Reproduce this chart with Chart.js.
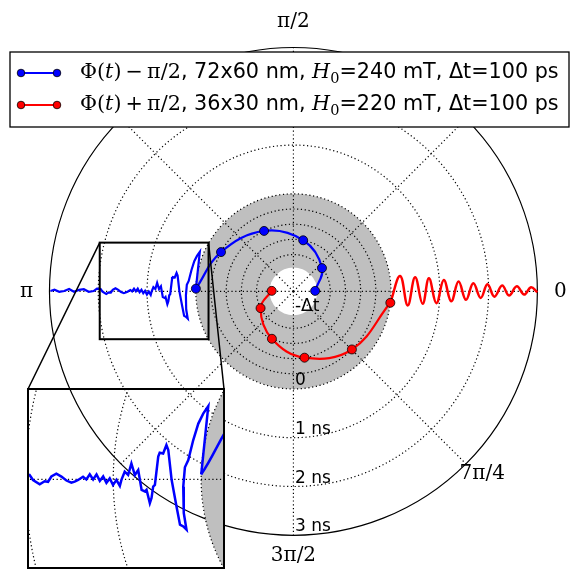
<!DOCTYPE html>
<html>
<head>
<meta charset="utf-8">
<script src="https://cdn.jsdelivr.net/npm/chart.js@4.4.1/dist/chart.umd.min.js"></script>
<style>
  body { margin: 0; background: #fff; }
  #wrap { position: relative; width: 579px; height: 572px; }
  #inset { position: absolute; left: 27px; top: 388px; }
</style>
</head>
<body>
<div id="wrap">
  <canvas id="polarChart" width="579" height="572"></canvas>
  <canvas id="inset" width="198" height="181"></canvas>
</div>
<script>
// times in ns, phases in degrees
// t < 0 lives in the magnified grey zone, the pole is -Δt
const spiralTimes = [-0.5, -0.4, -0.3, -0.2, -0.1, 0];
const blueSpiralPhase = [1.3, 39.2, 79.2, 115.9, 151.5, 178.4];
const redSpiralPhase = [178.6, 207.0, 245.6, 279.5, 315.2, 353.3];

const blueTraceTime = [0, 0.083, 0.106, 0.124, 0.135, 0.157, 0.189, 0.205, 0.229, 0.237,
  0.264, 0.296, 0.300, 0.336, 0.396, 0.425, 0.449, 0.489, 0.501, 0.527,
  0.547, 0.573, 0.597, 0.624, 0.644, 0.680, 0.718, 0.755, 0.799, 0.831,
  0.871, 0.907, 0.926, 0.964, 1.003, 1.040, 1.078, 1.115, 1.153, 1.191,
  1.229, 1.268, 1.306, 1.344, 1.400, 1.439, 1.477, 1.533, 1.590, 1.648,
  1.704, 1.742, 1.781, 1.837, 1.913, 1.952, 2.028, 2.095, 2.195, 2.296,
  2.396, 2.497, 2.598, 2.698, 2.799, 2.899, 2.98];
const blueTracePhase = [178.4, 157.1, 159.8, 163.1, 168.3, 174.3, 176.5, 182.1, 189.6, 194.4,
  193.3, 192.6, 187.5, 180.1, 172.2, 171.0, 173.3, 173.2, 174.2, 181.4,
  181.8, 184.6, 185.8, 182.5, 182.9, 182.5, 177.8, 179.0, 176.4, 179.0,
  178.3, 180.1, 181.4, 180.1, 181.2, 179.8, 180.7, 179.4, 180.3, 179.0,
  180.0, 179.0, 180.0, 179.5, 180.1, 180.4, 180.6, 180.2, 179.5, 179.0,
  179.5, 180.4, 180.3, 180.8, 180.1, 179.3, 179.2, 179.9, 180.1, 179.4,
  179.6, 180.1, 179.4, 179.9, 180.1, 179.6, 179.9];

const redTraceTime = [0, 0.21, 0.36, 0.51, 0.66, 0.79, 0.94, 1.09, 1.24, 1.39, 1.54,
  1.69, 1.84, 1.98, 2.12, 2.28, 2.42, 2.58, 2.73, 2.87, 3.0];
const redTracePhase = [-6.7, 8.2, -7.0, 6.6, -5.5, 5.5, -4.7, 4.3, -3.6, 3.4, -2.8,
  2.6, -2.0, 2.1, -1.5, 1.6, -1.1, 1.3, -0.8, 1.0, -0.2];

const radialTickTimes = [-0.643, 0, 1, 2, 3];
const radialTickLabels = ['-\u0394t', '0', '1 ns', '2 ns', '3 ns'];
const greyRingTimes = [-0.4, -0.3, -0.2, -0.1];
const angleTickDeg = [0, 90, 180, 270, 315];
const angleTickLabels = ['0', '\u03c0/2', '\u03c0', '3\u03c0/2', '7\u03c0/4'];

// zoomed window (plot units)
const insetX = [-3.97, -1.74];
const insetY = [-0.98, 1.0];

const T0 = radialTickTimes[0];
const HOLE = 0.49;
function radiusOf(t) { return t < 0 ? 2 * (t - T0) / -T0 : 2 + t; }
function toPoints(times, phases) {
  return times.map((t, i) => {
    const u = radiusOf(t), a = phases[i] * Math.PI / 180;
    return { x: u * Math.cos(a), y: u * Math.sin(a) };
  });
}

const BLUE = '#0000ff', RED = '#ff0000';
const SERIF = '"DejaVu Serif", serif', SANS = '"DejaVu Sans", sans-serif';

function makeDatasets(markers, lw) {
  const spiral = (phases, color) => ({
    data: toPoints(spiralTimes, phases), showLine: true, borderColor: color, borderWidth: lw,
    tension: 0.4, pointRadius: markers ? 4.5 : 0, pointBackgroundColor: color,
    pointBorderColor: '#000', pointBorderWidth: 0.8, order: 0
  });
  return [
    spiral(blueSpiralPhase, BLUE),
    spiral(redSpiralPhase, RED),
    { data: toPoints(blueTraceTime, blueTracePhase), showLine: true, borderColor: BLUE,
      borderWidth: lw, tension: 0, pointRadius: 0, order: 1 },
    { data: toPoints(redTraceTime, redTracePhase), showLine: true, borderColor: RED,
      borderWidth: lw + 0.3, tension: 0.4, pointRadius: 0, order: 1 }
  ];
}

const polarGrid = {
  id: 'polarGrid',
  beforeDatasetsDraw(chart) {
    const { ctx, chartArea: a, scales: { x, y } } = chart;
    const cx = x.getPixelForValue(0), cy = y.getPixelForValue(0);
    const kx = x.getPixelForValue(1) - cx, ky = cy - y.getPixelForValue(1);
    const ring = u => { ctx.beginPath(); ctx.ellipse(cx, cy, u * kx, u * ky, 0, 0, 2 * Math.PI); };
    ctx.save();
    ctx.beginPath(); ctx.rect(a.left, a.top, a.width, a.height); ctx.clip();
    ring(radiusOf(0)); ctx.fillStyle = '#bfbfbf'; ctx.fill();
    ring(HOLE); ctx.fillStyle = '#fff'; ctx.fill();
    ctx.setLineDash([1.2, 2.6]); ctx.lineWidth = 1.2; ctx.strokeStyle = '#000';
    greyRingTimes.concat(radialTickTimes.slice(1, -1)).forEach(t => { ring(radiusOf(t)); ctx.stroke(); });
    const outer = radiusOf(radialTickTimes[radialTickTimes.length - 1]);
    for (let k = 0; k < 8; k++) {
      const ang = k * Math.PI / 4;
      ctx.beginPath(); ctx.moveTo(cx, cy);
      ctx.lineTo(cx + outer * kx * Math.cos(ang), cy - outer * ky * Math.sin(ang));
      ctx.stroke();
    }
    ctx.setLineDash([]); ctx.strokeStyle = '#000'; ctx.lineWidth = 1.2;
    ring(outer); ctx.stroke();
    ctx.restore();
  }
};

// labels, zoom box, connectors and legend on the main chart
const decorations = {
  id: 'decorations',
  afterDatasetsDraw(chart) {
    const { ctx, scales: { x, y } } = chart;
    const cx = x.getPixelForValue(0), cy = y.getPixelForValue(0);
    const k = x.getPixelForValue(1) - cx;
    ctx.save();
    ctx.fillStyle = '#000';
    ctx.font = '17px ' + SANS;
    ctx.textAlign = 'left'; ctx.textBaseline = 'alphabetic';
    radialTickTimes.forEach((t, i) => {
      const r = radiusOf(t) * k;
      ctx.fillText(radialTickLabels[i], cx + 1.5, i === 0 ? cy + 20 : cy + r - 4);
    });
    ctx.font = '20px ' + SERIF;
    ctx.textAlign = 'center'; ctx.textBaseline = 'middle';
    angleTickDeg.forEach((d, i) => {
      const a = d * Math.PI / 180, r = 5 * k + 23;
      let px = cx + r * Math.cos(a), py = cy - r * Math.sin(a);
      if (d === 315) py -= 6;
      if (d === 270) py -= 3;
      if (d === 90) py -= 3;
      ctx.fillText(angleTickLabels[i], px, py);
    });
    // zoom box + connectors to the inset's top corners
    const x0 = x.getPixelForValue(insetX[0]), x1 = x.getPixelForValue(insetX[1]);
    const y0 = y.getPixelForValue(insetY[1]), y1 = y.getPixelForValue(insetY[0]);
    ctx.strokeStyle = '#000'; ctx.lineWidth = 2;
    ctx.strokeRect(x0, y0, x1 - x0, y1 - y0);
    ctx.lineWidth = 1.5;
    ctx.beginPath();
    ctx.moveTo(x0, y0); ctx.lineTo(28, 389);
    ctx.moveTo(x1, y0); ctx.lineTo(224, 389);
    ctx.stroke();
    ctx.restore();
  },
  afterDraw(chart) {
    const ctx = chart.ctx;
    ctx.save();
    ctx.fillStyle = '#fff'; ctx.strokeStyle = '#000'; ctx.lineWidth = 1.3;
    ctx.fillRect(10, 52, 559, 75); ctx.strokeRect(10, 52, 559, 75);
    const rows = [
      { color: BLUE, y: 73, parts: [
        { t: '\u03a6(', f: SERIF }, { t: 't', f: SERIF, s: 'italic ' }, { t: ')\u2009\u2212\u2009\u03c0/2', f: SERIF },
        { t: ', 72x60 nm, ', f: SANS }, { t: 'H', f: SERIF, s: 'italic ' }, { t: '0', f: SERIF, sc: 0.7, dy: 0.3 },
        { t: '=240 mT, \u0394t=100 ps', f: SANS }] },
      { color: RED, y: 105, parts: [
        { t: '\u03a6(', f: SERIF }, { t: 't', f: SERIF, s: 'italic ' }, { t: ')\u2009+\u2009\u03c0/2', f: SERIF },
        { t: ', 36x30 nm, ', f: SANS }, { t: 'H', f: SERIF, s: 'italic ' }, { t: '0', f: SERIF, sc: 0.7, dy: 0.3 },
        { t: '=220 mT, \u0394t=100 ps', f: SANS }] }
    ];
    const widthAt = (parts, size) => parts.reduce((w, p) => {
      ctx.font = (p.s || '') + (size * (p.sc || 1)) + 'px ' + p.f;
      return w + ctx.measureText(p.t).width;
    }, 0);
    const size = 19 * 479 / widthAt(rows[0].parts, 19);
    rows.forEach(row => {
      ctx.strokeStyle = row.color; ctx.lineWidth = 2;
      ctx.beginPath(); ctx.moveTo(21, row.y); ctx.lineTo(57, row.y); ctx.stroke();
      [21, 57].forEach(mx => {
        ctx.beginPath(); ctx.arc(mx, row.y, 3.8, 0, 2 * Math.PI);
        ctx.fillStyle = row.color; ctx.fill();
        ctx.strokeStyle = '#000'; ctx.lineWidth = 0.8; ctx.stroke();
      });
      ctx.fillStyle = '#000'; ctx.textBaseline = 'middle'; ctx.textAlign = 'left';
      let tx = 80;
      row.parts.forEach(p => {
        ctx.font = (p.s || '') + (size * (p.sc || 1)) + 'px ' + p.f;
        ctx.fillText(p.t, tx, row.y + (p.dy || 0) * size);
        tx += ctx.measureText(p.t).width;
      });
    });
    ctx.restore();
  }
};

const insetFrame = {
  id: 'insetFrame',
  afterDraw(chart) {
    const ctx = chart.ctx;
    ctx.save();
    ctx.strokeStyle = '#000'; ctx.lineWidth = 2;
    ctx.strokeRect(1, 1, chart.width - 2, chart.height - 2);
    ctx.restore();
  }
};

const baseOptions = (xr, yr) => ({
  responsive: false, animation: false, devicePixelRatio: 1, events: [],
  layout: { padding: 0 },
  plugins: { legend: { display: false }, tooltip: { enabled: false } },
  scales: {
    x: { type: 'linear', display: false, min: xr[0], max: xr[1] },
    y: { type: 'linear', display: false, min: yr[0], max: yr[1] }
  }
});

// main polar view: centre at (293.5, 291.5), 49.7 px per unit
const K = 49.7;
new Chart(document.getElementById('polarChart'), {
  type: 'scatter',
  data: { datasets: makeDatasets(true, 2.2) },
  options: baseOptions([-293.5 / K, (579 - 293.5) / K], [-(572 - 291.5) / K, 291.5 / K]),
  plugins: [polarGrid, decorations]
});

// inset: frame inner area 196 x 179 maps onto the zoom window
const sx = (insetX[1] - insetX[0]) / 196, sy = (insetY[1] - insetY[0]) / 179;
new Chart(document.getElementById('inset'), {
  type: 'scatter',
  data: { datasets: makeDatasets(false, 2.5) },
  options: baseOptions([insetX[0] - sx, insetX[1] + sx], [insetY[0] - sy, insetY[1] + sy]),
  plugins: [polarGrid, insetFrame]
});
</script>
</body>
</html>
